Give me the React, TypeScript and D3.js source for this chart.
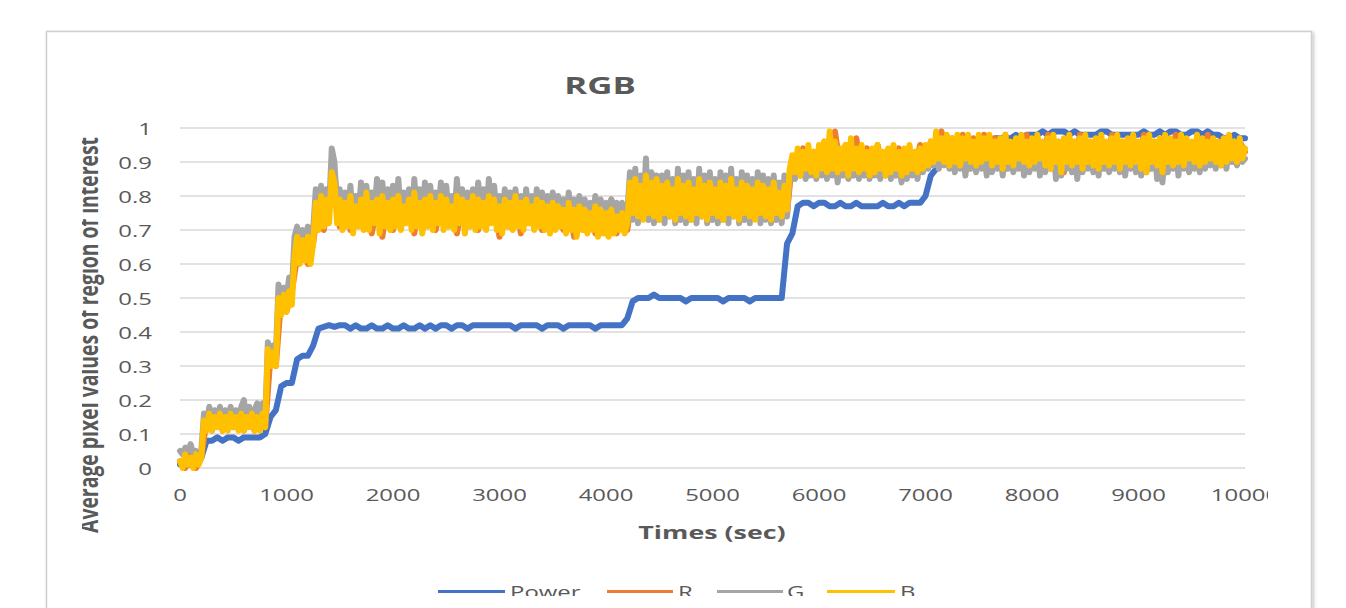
import React from 'react';
import * as d3 from 'd3';

// sample times (s): power and R every 50 s, G and B every 25 s
const timesCoarse: number[] = d3.range(0, 10001, 50);
const timesDense: number[] = d3.range(0, 10001, 25);

const xTicks = [0, 1000, 2000, 3000, 4000, 5000, 6000, 7000, 8000, 9000, 10000];
const xTickLabels = ['0', '1000', '2000', '3000', '4000', '5000', '6000', '7000', '8000', '9000', '10000'];
const yTicks = [0, 0.1, 0.2, 0.3, 0.4, 0.5, 0.6, 0.7, 0.8, 0.9, 1];
const yTickLabels = ['0', '0.1', '0.2', '0.3', '0.4', '0.5', '0.6', '0.7', '0.8', '0.9', '1'];

const seriesNames = ['Power', 'R', 'G', 'B'];
const seriesColors = ['#4472C4', '#ED7D31', '#A5A5A5', '#FFC000'];

const powerValues = [
  0.01, 0.01, 0.01, 0.01, 0.03, 0.08, 0.08, 0.09, 0.08, 0.09,
  0.09, 0.08, 0.09, 0.09, 0.09, 0.09, 0.10, 0.15, 0.17, 0.24,
  0.25, 0.25, 0.32, 0.33, 0.33, 0.36, 0.41, 0.415, 0.42, 0.415,
  0.42, 0.42, 0.41, 0.42, 0.41, 0.41, 0.42, 0.41, 0.41, 0.42,
  0.41, 0.41, 0.42, 0.41, 0.41, 0.42, 0.41, 0.42, 0.41, 0.42,
  0.42, 0.41, 0.42, 0.42, 0.41, 0.42, 0.42, 0.42, 0.42, 0.42,
  0.42, 0.42, 0.42, 0.41, 0.42, 0.42, 0.42, 0.42, 0.41, 0.42,
  0.42, 0.42, 0.41, 0.42, 0.42, 0.42, 0.42, 0.42, 0.41, 0.42,
  0.42, 0.42, 0.42, 0.42, 0.44, 0.49, 0.50, 0.50, 0.50, 0.51,
  0.50, 0.50, 0.50, 0.50, 0.50, 0.49, 0.50, 0.50, 0.50, 0.50,
  0.50, 0.50, 0.49, 0.50, 0.50, 0.50, 0.50, 0.49, 0.50, 0.50,
  0.50, 0.50, 0.50, 0.50, 0.66, 0.69, 0.77, 0.78, 0.78, 0.77,
  0.78, 0.78, 0.77, 0.77, 0.78, 0.77, 0.77, 0.78, 0.77, 0.77,
  0.77, 0.77, 0.78, 0.77, 0.77, 0.78, 0.77, 0.78, 0.78, 0.78,
  0.80, 0.86, 0.88, 0.90, 0.93, 0.94, 0.95, 0.95, 0.96, 0.96,
  0.96, 0.97, 0.96, 0.97, 0.97, 0.97, 0.97, 0.98, 0.97, 0.98,
  0.98, 0.98, 0.99, 0.98, 0.99, 0.99, 0.99, 0.98, 0.99, 0.98,
  0.98, 0.98, 0.98, 0.99, 0.99, 0.98, 0.98, 0.98, 0.98, 0.98,
  0.98, 0.99, 0.98, 0.98, 0.99, 0.98, 0.99, 0.99, 0.98, 0.98,
  0.99, 0.99, 0.98, 0.99, 0.98, 0.98, 0.97, 0.97, 0.98, 0.97,
  0.97,
];

const rValues = [
  0.02, 0.00, 0.04, 0.00, 0.03, 0.14, 0.11, 0.16, 0.11, 0.15,
  0.12, 0.16, 0.11, 0.15, 0.11, 0.16, 0.12, 0.33, 0.30, 0.50,
  0.46, 0.52, 0.62, 0.68, 0.60, 0.66, 0.78, 0.70, 0.80, 0.87,
  0.71, 0.79, 0.70, 0.78, 0.72, 0.80, 0.69, 0.77, 0.68, 0.79,
  0.70, 0.80, 0.72, 0.78, 0.69, 0.79, 0.71, 0.80, 0.70, 0.77,
  0.72, 0.79, 0.69, 0.78, 0.71, 0.80, 0.70, 0.78, 0.72, 0.79,
  0.68, 0.77, 0.71, 0.79, 0.69, 0.78, 0.72, 0.80, 0.70, 0.77,
  0.71, 0.78, 0.70, 0.77, 0.68, 0.76, 0.70, 0.77, 0.69, 0.75,
  0.69, 0.79, 0.69, 0.74, 0.70, 0.82, 0.74, 0.84, 0.73, 0.86,
  0.75, 0.83, 0.74, 0.84, 0.73, 0.82, 0.75, 0.84, 0.74, 0.83,
  0.73, 0.82, 0.75, 0.84, 0.74, 0.83, 0.73, 0.82, 0.75, 0.83,
  0.74, 0.82, 0.73, 0.81, 0.75, 0.91, 0.87, 0.94, 0.86, 0.93,
  0.88, 0.96, 0.87, 0.99, 0.88, 0.95, 0.86, 0.97, 0.88, 0.94,
  0.87, 0.95, 0.88, 0.93, 0.86, 0.94, 0.87, 0.93, 0.88, 0.95,
  0.89, 0.96, 0.90, 0.99, 0.91, 0.97, 0.90, 0.98, 0.89, 0.97,
  0.90, 0.98, 0.89, 0.97, 0.91, 0.98, 0.90, 0.96, 0.89, 0.98,
  0.90, 0.97, 0.91, 0.98, 0.89, 0.96, 0.87, 0.97, 0.90, 0.98,
  0.89, 0.96, 0.90, 0.97, 0.88, 0.98, 0.90, 0.96, 0.89, 0.97,
  0.90, 0.98, 0.88, 0.96, 0.87, 0.97, 0.90, 0.98, 0.89, 0.96,
  0.90, 0.97, 0.89, 0.98, 0.90, 0.96, 0.91, 0.97, 0.90, 0.96,
  0.93,
];

const gValues = [
  0.05, 0.04, 0.06, 0.05, 0.07, 0.04, 0.05, 0.04, 0.05, 0.16,
  0.13, 0.18, 0.14, 0.17, 0.13, 0.18, 0.14, 0.17, 0.13, 0.18,
  0.14, 0.17, 0.13, 0.18, 0.20, 0.14, 0.18, 0.13, 0.17, 0.19,
  0.14, 0.19, 0.14, 0.37, 0.33, 0.36, 0.33, 0.54, 0.49, 0.53,
  0.50, 0.56, 0.52, 0.68, 0.71, 0.64, 0.70, 0.65, 0.71, 0.64,
  0.70, 0.82, 0.74, 0.83, 0.75, 0.82, 0.76, 0.94, 0.90, 0.76,
  0.82, 0.74, 0.81, 0.75, 0.83, 0.73, 0.80, 0.74, 0.84, 0.73,
  0.83, 0.74, 0.81, 0.75, 0.85, 0.73, 0.84, 0.74, 0.82, 0.73,
  0.83, 0.74, 0.85, 0.73, 0.81, 0.75, 0.82, 0.73, 0.85, 0.74,
  0.82, 0.73, 0.84, 0.74, 0.83, 0.73, 0.81, 0.75, 0.84, 0.73,
  0.83, 0.74, 0.80, 0.73, 0.85, 0.75, 0.82, 0.73, 0.81, 0.74,
  0.82, 0.73, 0.84, 0.74, 0.82, 0.73, 0.85, 0.75, 0.83, 0.73,
  0.80, 0.73, 0.82, 0.74, 0.81, 0.73, 0.82, 0.74, 0.80, 0.73,
  0.82, 0.75, 0.80, 0.73, 0.82, 0.74, 0.81, 0.73, 0.80, 0.72,
  0.81, 0.73, 0.80, 0.74, 0.79, 0.72, 0.81, 0.73, 0.79, 0.72,
  0.80, 0.73, 0.79, 0.72, 0.78, 0.73, 0.80, 0.72, 0.79, 0.72,
  0.78, 0.72, 0.79, 0.72, 0.78, 0.73, 0.78, 0.72, 0.75, 0.87,
  0.73, 0.88, 0.72, 0.86, 0.74, 0.91, 0.73, 0.87, 0.72, 0.86,
  0.73, 0.86, 0.72, 0.87, 0.74, 0.85, 0.72, 0.88, 0.73, 0.86,
  0.72, 0.87, 0.73, 0.85, 0.72, 0.88, 0.74, 0.86, 0.72, 0.87,
  0.73, 0.85, 0.72, 0.87, 0.73, 0.86, 0.72, 0.88, 0.74, 0.85,
  0.72, 0.87, 0.73, 0.86, 0.72, 0.85, 0.74, 0.87, 0.72, 0.86,
  0.73, 0.85, 0.72, 0.86, 0.73, 0.84, 0.72, 0.86, 0.74, 0.86,
  0.90, 0.85, 0.91, 0.86, 0.90, 0.85, 0.92, 0.86, 0.91, 0.85,
  0.92, 0.86, 0.91, 0.85, 0.93, 0.86, 0.92, 0.84, 0.91, 0.86,
  0.92, 0.85, 0.91, 0.86, 0.92, 0.85, 0.90, 0.86, 0.91, 0.85,
  0.92, 0.86, 0.91, 0.85, 0.90, 0.86, 0.92, 0.85, 0.91, 0.86,
  0.91, 0.84, 0.90, 0.85, 0.92, 0.86, 0.91, 0.85, 0.92, 0.87,
  0.92, 0.88, 0.94, 0.89, 0.95, 0.88, 0.94, 0.89, 0.95, 0.88,
  0.94, 0.87, 0.95, 0.88, 0.94, 0.86, 0.95, 0.88, 0.94, 0.87,
  0.95, 0.88, 0.94, 0.86, 0.95, 0.87, 0.94, 0.88, 0.95, 0.86,
  0.94, 0.88, 0.95, 0.87, 0.94, 0.88, 0.95, 0.86, 0.94, 0.87,
  0.95, 0.88, 0.94, 0.86, 0.95, 0.87, 0.94, 0.88, 0.95, 0.85,
  0.94, 0.86, 0.95, 0.88, 0.94, 0.87, 0.95, 0.85, 0.94, 0.87,
  0.95, 0.88, 0.94, 0.87, 0.95, 0.86, 0.94, 0.88, 0.95, 0.87,
  0.94, 0.88, 0.95, 0.87, 0.94, 0.86, 0.95, 0.88, 0.94, 0.87,
  0.95, 0.86, 0.94, 0.87, 0.95, 0.88, 0.94, 0.85, 0.95, 0.84,
  0.94, 0.87, 0.95, 0.88, 0.94, 0.86, 0.95, 0.88, 0.94, 0.87,
  0.95, 0.88, 0.94, 0.87, 0.95, 0.88, 0.94, 0.89, 0.95, 0.88,
  0.94, 0.89, 0.95, 0.88, 0.94, 0.90, 0.95, 0.89, 0.94, 0.90,
  0.91,
];

const bValues = [
  0.02, 0.00, 0.04, 0.01, 0.03, 0.00, 0.04, 0.01, 0.03, 0.14,
  0.11, 0.16, 0.11, 0.15, 0.12, 0.16, 0.11, 0.15, 0.11, 0.16,
  0.12, 0.15, 0.11, 0.16, 0.11, 0.15, 0.12, 0.16, 0.11, 0.15,
  0.11, 0.16, 0.12, 0.35, 0.30, 0.34, 0.30, 0.50, 0.45, 0.51,
  0.46, 0.52, 0.48, 0.62, 0.68, 0.60, 0.67, 0.61, 0.68, 0.60,
  0.66, 0.78, 0.70, 0.80, 0.71, 0.79, 0.72, 0.87, 0.84, 0.72,
  0.79, 0.70, 0.78, 0.71, 0.80, 0.69, 0.77, 0.71, 0.79, 0.70,
  0.81, 0.70, 0.78, 0.72, 0.79, 0.69, 0.80, 0.71, 0.78, 0.70,
  0.79, 0.71, 0.80, 0.70, 0.77, 0.72, 0.79, 0.70, 0.81, 0.71,
  0.78, 0.69, 0.79, 0.71, 0.80, 0.70, 0.78, 0.72, 0.80, 0.70,
  0.79, 0.71, 0.77, 0.70, 0.80, 0.72, 0.79, 0.69, 0.78, 0.71,
  0.80, 0.70, 0.79, 0.71, 0.78, 0.70, 0.80, 0.72, 0.79, 0.70,
  0.77, 0.69, 0.79, 0.71, 0.78, 0.70, 0.80, 0.71, 0.78, 0.70,
  0.79, 0.72, 0.77, 0.70, 0.79, 0.71, 0.78, 0.70, 0.77, 0.69,
  0.78, 0.70, 0.77, 0.71, 0.76, 0.69, 0.78, 0.70, 0.76, 0.68,
  0.77, 0.70, 0.76, 0.69, 0.75, 0.70, 0.77, 0.68, 0.76, 0.69,
  0.75, 0.68, 0.76, 0.69, 0.74, 0.70, 0.75, 0.69, 0.72, 0.84,
  0.75, 0.85, 0.74, 0.83, 0.73, 0.86, 0.75, 0.84, 0.74, 0.85,
  0.73, 0.83, 0.75, 0.84, 0.74, 0.82, 0.73, 0.85, 0.75, 0.83,
  0.74, 0.84, 0.73, 0.82, 0.75, 0.85, 0.74, 0.83, 0.73, 0.84,
  0.75, 0.82, 0.74, 0.84, 0.73, 0.83, 0.75, 0.85, 0.74, 0.82,
  0.73, 0.84, 0.75, 0.83, 0.74, 0.82, 0.73, 0.84, 0.75, 0.83,
  0.74, 0.82, 0.73, 0.84, 0.75, 0.81, 0.74, 0.83, 0.76, 0.88,
  0.92, 0.87, 0.94, 0.86, 0.93, 0.88, 0.95, 0.87, 0.93, 0.86,
  0.95, 0.88, 0.96, 0.87, 0.99, 0.88, 0.96, 0.87, 0.94, 0.88,
  0.95, 0.86, 0.97, 0.88, 0.94, 0.87, 0.95, 0.88, 0.93, 0.86,
  0.94, 0.87, 0.95, 0.88, 0.93, 0.86, 0.94, 0.87, 0.95, 0.88,
  0.93, 0.86, 0.94, 0.87, 0.95, 0.88, 0.93, 0.87, 0.94, 0.88,
  0.95, 0.89, 0.96, 0.90, 0.99, 0.91, 0.97, 0.90, 0.98, 0.89,
  0.97, 0.90, 0.98, 0.89, 0.97, 0.91, 0.98, 0.90, 0.96, 0.89,
  0.98, 0.90, 0.97, 0.91, 0.98, 0.89, 0.96, 0.90, 0.97, 0.88,
  0.98, 0.90, 0.96, 0.89, 0.97, 0.91, 0.98, 0.90, 0.96, 0.89,
  0.97, 0.90, 0.98, 0.91, 0.96, 0.89, 0.97, 0.88, 0.98, 0.90,
  0.96, 0.87, 0.97, 0.90, 0.98, 0.89, 0.96, 0.90, 0.97, 0.88,
  0.98, 0.90, 0.96, 0.89, 0.97, 0.88, 0.98, 0.90, 0.96, 0.89,
  0.97, 0.90, 0.98, 0.88, 0.96, 0.90, 0.97, 0.89, 0.98, 0.90,
  0.96, 0.88, 0.97, 0.87, 0.98, 0.90, 0.96, 0.89, 0.97, 0.87,
  0.98, 0.90, 0.97, 0.89, 0.96, 0.90, 0.98, 0.89, 0.97, 0.91,
  0.96, 0.90, 0.98, 0.89, 0.97, 0.90, 0.96, 0.91, 0.97, 0.90,
  0.96, 0.89, 0.97, 0.90, 0.98, 0.91, 0.96, 0.90, 0.97, 0.91,
  0.94,
];

const allSeries = [
  { values: powerValues, times: timesCoarse },
  { values: rValues, times: timesCoarse },
  { values: gValues, times: timesDense },
  { values: bValues, times: timesDense },
];

const FONT = '"Open Sans", "DejaVu Sans", sans-serif';
const TEXT_COLOR = '#595959';
const SX = 1.45; // horizontal stretch of the glyphs in the reference

function SText(props: {
  x: number; y: number; size: number; anchor?: string; weight?: string | number; children: React.ReactNode;
}) {
  const { x, y, size, anchor = 'start', weight = 'normal', children } = props;
  return (
    <text
      transform={`translate(${x},${y}) scale(${SX},1)`}
      textAnchor={anchor}
      fontSize={size}
      fontWeight={weight as any}
      fontFamily={FONT}
      fill={TEXT_COLOR}
    >
      {children}
    </text>
  );
}

export default function App() {
  const W = 1346;
  const H = 608;
  const x = d3.scaleLinear().domain([0, 10000]).range([180, 1245]);
  const y = d3.scaleLinear().domain([0, 1]).range([468, 128]);

  const legendItems = [
    { x1: 438, x2: 505, tx: 510 },
    { x1: 607, x2: 673, tx: 678 },
    { x1: 717, x2: 783, tx: 787 },
    { x1: 827, x2: 895, tx: 900 },
  ];

  return (
    <svg
      width={W}
      height={H}
      style={{ position: 'absolute', left: 0, top: 0, background: '#fff' }}
    >
      <defs>
        <filter id="shadow" x="-5%" y="-5%" width="110%" height="110%">
          <feDropShadow dx="1.5" dy="1.5" stdDeviation="1.5" floodColor="#000" floodOpacity="0.25" />
        </filter>
        <clipPath id="ytitleClip">
          <rect x={82} y={0} width={100} height={H} />
        </clipPath>
        <clipPath id="xtickClip">
          <rect x={0} y={0} width={1268} height={H} />
        </clipPath>
        <clipPath id="legendClip">
          <rect x={0} y={0} width={W} height={596} />
        </clipPath>
      </defs>

      <rect x={46.5} y={31.5} width={1265} height={620} fill="#fff" stroke="#cfcfcf" strokeWidth={1.5} filter="url(#shadow)" />

      {/* title */}
      <SText x={600} y={94} size={24} anchor="middle" weight="bold">RGB</SText>

      {/* gridlines */}
      {yTicks.map((t) => (
        <line key={t} x1={180} x2={1245} y1={y(t)} y2={y(t)} stroke="#d9d9d9" strokeWidth={1.3} />
      ))}

      {/* y tick labels */}
      {yTicks.map((t, i) => (
        <SText key={t} x={152} y={y(t) + 6.5} size={16.5} anchor="end">{yTickLabels[i]}</SText>
      ))}

      {/* x tick labels */}
      <g clipPath="url(#xtickClip)">
        {xTicks.map((t, i) => (
          <SText key={t} x={x(t)} y={501} size={16.5} anchor="middle">{xTickLabels[i]}</SText>
        ))}
      </g>

      {/* axis titles */}
      <SText x={712} y={539} size={18.5} anchor="middle" weight="bold">Times (sec)</SText>
      <g clipPath="url(#ytitleClip)">
        <text
          transform={`translate(98,335) rotate(-90) scale(1,${SX})`}
          textAnchor="middle"
          fontSize={19}
          fontWeight="bold"
          fontFamily={FONT}
          fill={TEXT_COLOR}
          textLength={396}
          lengthAdjust="spacingAndGlyphs"
        >
          Average pixel values of region of interest
        </text>
      </g>

      {/* series */}
      {allSeries.map((s, si) => {
        const line = d3
          .line<number>()
          .x((_, i) => x(s.times[i]))
          .y((d) => y(d));
        return (
          <path
            key={seriesNames[si]}
            d={line(s.values) || ''}
            fill="none"
            stroke={seriesColors[si]}
            strokeWidth={6}
            strokeLinejoin="round"
            strokeLinecap="round"
          />
        );
      })}

      {/* legend */}
      <g clipPath="url(#legendClip)">
        {legendItems.map((it, i) => (
          <g key={seriesNames[i]}>
            <line x1={it.x1} x2={it.x2} y1={591.5} y2={591.5} stroke={seriesColors[i]} strokeWidth={3} />
            <SText x={it.tx} y={598} size={16.5} anchor="start">{seriesNames[i]}</SText>
          </g>
        ))}
      </g>
    </svg>
  );
}
